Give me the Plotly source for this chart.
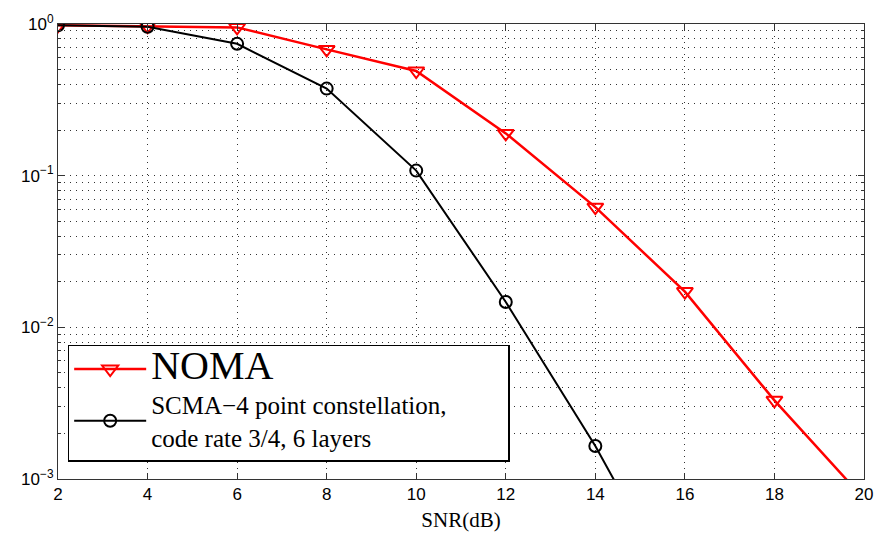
import plotly.graph_objects as go

snr = [2, 4, 6, 8, 10, 12, 14, 16, 18, 20]
noma = [0.98, 0.97, 0.95, 0.68, 0.49, 0.19, 0.062, 0.0172, 0.0033, 0.00074]
scma_x = [2, 4, 6, 8, 10, 12, 14, 16]
scma = [0.98, 0.96, 0.74, 0.375, 0.108, 0.0147, 0.00165, 0.00014]

x_ticks = [2, 4, 6, 8, 10, 12, 14, 16, 18, 20]
y_ticks = [1e-3, 1e-2, 1e-1, 1]
y_labels = ["10<sup>−3</sup>", "10<sup>−2</sup>", "10<sup>−1</sup>", "10<sup>0</sup>"]
minor_y = [m * 10 ** e for e in (-3, -2, -1) for m in range(2, 10)]

pad = "\u00a0" * 9

fig = go.Figure()
fig.add_trace(go.Scatter(
    x=snr, y=noma, mode="lines+markers",
    name='<span style="font-size:40px">NOMA</span>',
    line=dict(color="#ff0000", width=2.5),
    marker=dict(symbol="triangle-down-open", size=14, color="#ff0000", line=dict(width=2)),
))
fig.add_trace(go.Scatter(
    x=scma_x, y=scma, mode="lines+markers",
    name="SCMA−4 point constellation," + pad + "<br>code rate 3/4, 6 layers",
    line=dict(color="black", width=2),
    marker=dict(symbol="circle-open", size=12, color="black", line=dict(width=2)),
))

axis_common = dict(
    showline=True, linecolor="#333", linewidth=1, mirror="allticks",
    ticks="inside", ticklen=6, tickcolor="#333",
    showgrid=True, gridcolor="#333", griddash="1px,5px", gridwidth=1,
    zeroline=False,
    tickfont=dict(family="Liberation Sans, Arial", size=17, color="black"),
)

fig.update_xaxes(
    range=[2, 20], tickvals=x_ticks,
    title=dict(text="SNR(dB)", font=dict(family="Liberation Serif, Times New Roman", size=21, color="black"), standoff=8),
    **axis_common,
)
fig.update_yaxes(
    type="log", range=[-3, 0], tickvals=y_ticks, ticktext=y_labels,
    minor=dict(tickvals=minor_y, ticks="inside", ticklen=3, tickcolor="#333",
               showgrid=True, gridcolor="#333", griddash="1px,5px"),
    **axis_common,
)

fig.update_layout(
    width=885, height=539,
    margin=dict(l=58, r=17, t=15, b=58),
    plot_bgcolor="white", paper_bgcolor="white",
    showlegend=True,
    legend=dict(
        x=0.012, y=0.295, xanchor="left", yanchor="top",
        bgcolor="white", bordercolor="black", borderwidth=1.5,
        font=dict(family="Liberation Serif, Times New Roman", size=25, color="black"),
        itemwidth=72, tracegroupgap=10,
    ),
)

fig.write_html("out.html")
